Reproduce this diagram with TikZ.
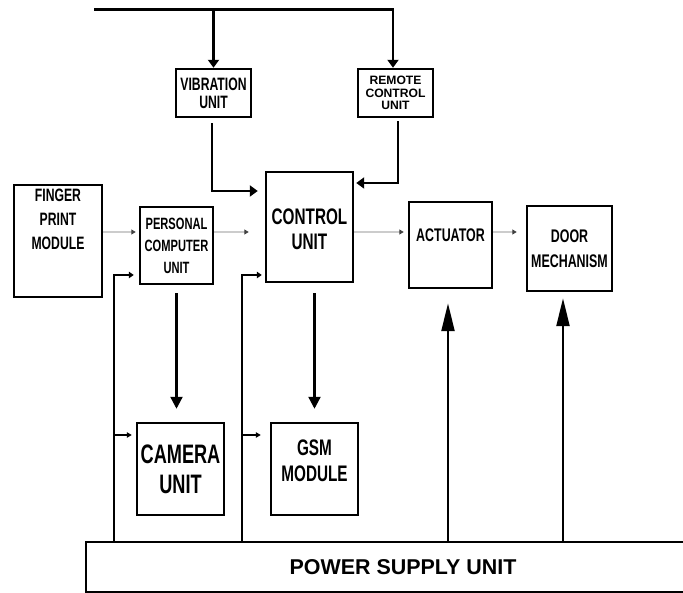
\documentclass[tikz,border=0pt]{standalone}
\usepackage{fontspec}
\setmainfont{Liberation Sans}
\newfontfamily\cond[FakeStretch=0.68]{Liberation Sans}
\usetikzlibrary{arrows.meta, positioning}

\newcommand{\lift}[2]{\raisebox{#1}[\height][\depth]{\begin{tabular}{@{}c@{}}#2\end{tabular}}}
\newcommand{\fs}[2]{\fontsize{#1}{#2}\selectfont}

\tikzset{
  blk/.style={draw, line width=1.4pt, align=center, inner sep=0pt},
  wire/.style={line width=1.3pt},
  feed/.style={gray!40, line width=0.6pt, -{Triangle[length=0.9mm, width=1mm, color=black!75]}},
  intip/.style={-{Triangle[length=1.6mm, width=2.2mm]}},
  downtip/.style={-{Triangle[length=2.4mm, width=2.4mm]}},
  uptip/.style={-{Triangle[length=5.6mm, width=2.6mm]}},
  pwtip/.style={-{Triangle[length=1mm, width=1.3mm]}},
  tap/.style={line width=0.6pt, -{Triangle[length=1mm, width=1.1mm]}},
}

\begin{document}
\begin{tikzpicture}[x=0.2mm, y=-0.2mm]
  \useasboundingbox (0,0) rectangle (683,593);
  \fill[white] (0,0) rectangle (683,593);

  % units
  \node[blk, minimum width=15mm, minimum height=9.6mm, font=\cond\bfseries\fs{10.2}{10.4}] (vib) at (213.5,93) {VIBRATION\\UNIT};
  \node[blk, minimum width=15mm, minimum height=9.6mm, font=\bfseries\fs{6.9}{7.1}] (remote) at (395.5,93) {REMOTE\\CONTROL\\UNIT};
  \node[blk, minimum width=17.6mm, minimum height=22.4mm, font=\cond\bfseries\fs{10.2}{13.7}] (finger) at (58,241) {\lift{4mm}{FINGER\\PRINT\\MODULE}};
  \node[blk, minimum width=14.6mm, minimum height=15.4mm, font=\cond\bfseries\fs{9.3}{12.5}] (pc) at (176.5,245.5) {PERSONAL\\COMPUTER\\UNIT};
  \node[blk, minimum width=17.4mm, minimum height=22mm, font=\cond\bfseries\fs{12.8}{14.2}] (control) at (309.5,227) {\lift{-1mm}{CONTROL\\UNIT}};
  \node[blk, minimum width=16.6mm, minimum height=17.2mm, font=\cond\bfseries\fs{10.4}{12}] (actuator) at (450.5,245) {\lift{1.6mm}{ACTUATOR}};
  \node[blk, minimum width=17mm, minimum height=17mm, font=\cond\bfseries\fs{10.4}{14.2}] (door) at (569.5,248.5) {DOOR\\MECHANISM};
  \node[blk, minimum width=17.4mm, minimum height=18.4mm, font=\cond\bfseries\fs{15.2}{17.1}] (camera) at (180.5,469) {CAMERA\\UNIT};
  \node[blk, minimum width=17.4mm, minimum height=18.4mm, font=\cond\bfseries\fs{12.8}{14.8}] (gsm) at (314.5,469) {\lift{1.2mm}{GSM\\MODULE}};
  \node[blk, line width=1.1pt, minimum width=126.8mm, minimum height=10mm, font=\bfseries\fs{12.2}{14}] (power) at (403,567) {POWER SUPPLY UNIT};

  \coordinate (topL) at (94,9.5);
  \coordinate (row) at (0,232);
  \coordinate (pw1) at (114,542);
  \coordinate (pw2) at (242,542);

  % inputs from the top
  \draw[wire, intip] (topL) -| ([xshift=-0.5mm]remote.north);
  \draw[wire, intip] (topL -| vib.north) -- (vib.north);
  \draw[wire, intip, shorten >=1.4mm] ([xshift=-0.3mm, yshift=-1mm]vib.south) |- ([yshift=7.2mm]control.west);
  \draw[wire, intip, shorten >=0.4mm] ([xshift=0.5mm, yshift=-0.6mm]remote.south) |- ([yshift=8.8mm]control.east);

  % main row
  \draw[feed, shorten >=0.6mm] (finger.east |- row) -- (pc.west |- row);
  \draw[feed, shorten >=3.2mm] (pc.east |- row) -- (control.west |- row);
  \draw[feed, shorten >=0.8mm] (control.east |- row) -- (actuator.west |- row);
  \draw[feed, shorten >=1.8mm] (actuator.east |- row) -- (door.west |- row);

  % outputs
  \draw[wire, downtip, shorten <=1.6mm, shorten >=2.6mm] (pc.south) -- (pc.south |- camera.north);
  \draw[wire, downtip, shorten <=2mm, shorten >=2.6mm] (gsm.north |- control.south) -- (gsm.north);

  % power feeds
  \coordinate (camin) at ([yshift=6.8mm]camera.west);
  \coordinate (gsmin) at ([yshift=6.8mm]gsm.west);
  \draw[wire, pwtip, shorten >=1mm] (pw1) |- ([yshift=-5.9mm]pc.west);
  \draw[tap, shorten >=0.8mm] (pw1 |- camin) -- (camin);
  \draw[wire, pwtip, shorten >=0.6mm] (pw2) |- ([yshift=-9.6mm]control.west);
  \draw[tap, shorten >=1.8mm] (pw2 |- gsmin) -- (gsmin);

  \coordinate (actin) at ([xshift=-0.5mm]actuator.south);
  \coordinate (doorin) at ([xshift=-1.3mm]door.south);
  \draw[wire, uptip, shorten >=2.8mm] (actin |- power.north) -- (actin);
  \draw[wire, uptip, shorten >=1.2mm] (doorin |- power.north) -- (doorin);
\end{tikzpicture}
\end{document}
